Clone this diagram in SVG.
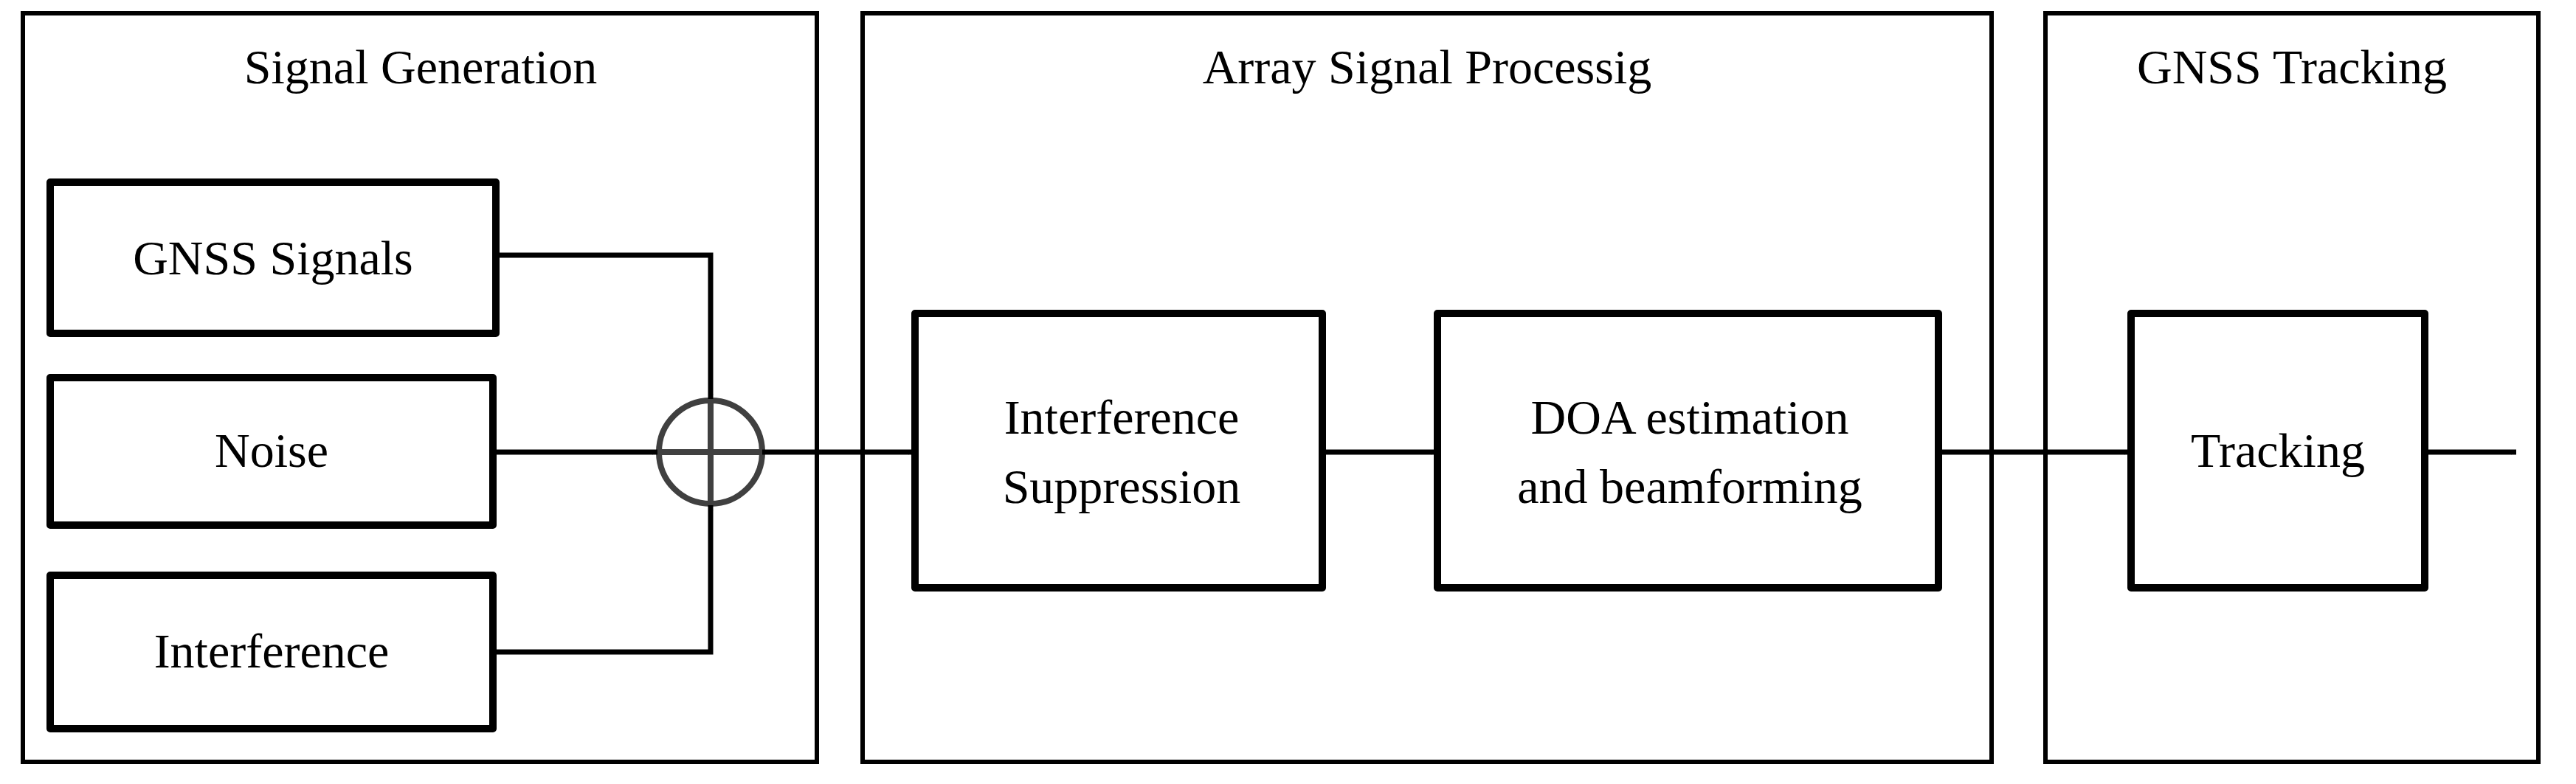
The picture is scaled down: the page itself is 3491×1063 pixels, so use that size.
<svg xmlns="http://www.w3.org/2000/svg" width="3491" height="1063" viewBox="0 0 3491 1063">
<style>
.outer{fill:none;stroke:#000;stroke-width:6}
.box{fill:#fff;stroke:#000;stroke-width:10;stroke-linejoin:round}
.t{font-family:"Liberation Serif",serif;font-size:66px;fill:#000;text-anchor:middle}
.c{fill:none;stroke:#000;stroke-width:7}
</style>
<defs>
<marker id="a" viewBox="0 0 10 10" refX="10" refY="5" markerWidth="7" markerHeight="7" markerUnits="userSpaceOnUse" orient="auto">
<path d="M0,0L10,5L0,10L2.5,5z" fill="#000"/>
</marker>
</defs>
<rect width="3491" height="1063" fill="#fff"/>
<g id="sg"><rect class="outer" x="31" y="18" width="1076" height="1015"/><text class="t" x="570" y="113">Signal Generation</text></g>
<g id="asp"><rect class="outer" x="1169" y="18" width="1530" height="1015"/><text class="t" x="1934" y="113">Array Signal Processig</text></g>
<g id="gt"><rect class="outer" x="2772" y="18" width="668" height="1015"/><text class="t" x="3106" y="113">GNSS Tracking</text></g>
<g id="gnss"><rect class="box" x="68" y="247" width="604" height="205"/><text class="t" x="370" y="372">GNSS Signals</text></g>
<g id="noise"><rect class="box" x="68" y="512" width="600" height="200"/><text class="t" x="368" y="633">Noise</text></g>
<g id="intf"><rect class="box" x="68" y="780" width="600" height="208"/><text class="t" x="368" y="905">Interference</text></g>
<g id="sum"><circle cx="963" cy="613" r="70" fill="#fff" stroke="#404040" stroke-width="8"/><path d="M963,543V683M893,613H1033" stroke="#404040" stroke-width="8"/></g>
<g id="is"><rect class="box" x="1240" y="425" width="552" height="372"/><text class="t" x="1520" y="588">Interference</text><text class="t" x="1520" y="682">Suppression</text></g>
<g id="doa"><rect class="box" x="1948" y="425" width="679" height="372"/><text class="t" x="2290" y="588">DOA estimation</text><text class="t" x="2290" y="682">and beamforming</text></g>
<g id="trk"><rect class="box" x="2888" y="425" width="398" height="372"/><text class="t" x="3087" y="633">Tracking</text></g>
<g id="connectors">
<path class="c" d="M672,346H963V541" marker-end="url(#a)"/>
<path class="c" d="M668,613H891" marker-end="url(#a)"/>
<path class="c" d="M668,884H963V685" marker-end="url(#a)"/>
<path class="c" d="M1033,613H1238" marker-end="url(#a)"/>
<path class="c" d="M1792,613H1946" marker-end="url(#a)"/>
<path class="c" d="M2627,613H2886" marker-end="url(#a)"/>
<path class="c" d="M3286,613H3410" marker-end="url(#a)"/>
</g>
</svg>
